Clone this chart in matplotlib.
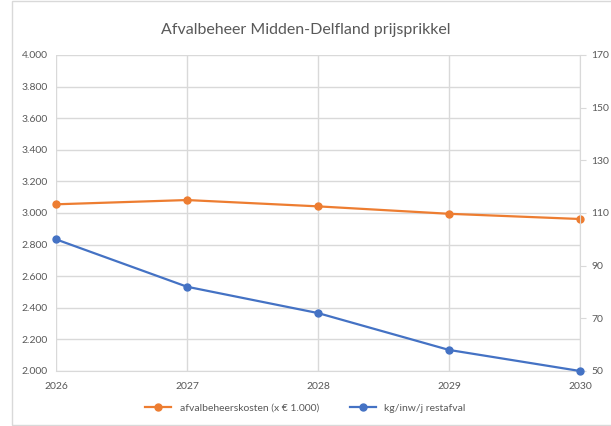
import matplotlib.pyplot as plt
import numpy as np

plt.rcParams['font.family'] = ['Lato', 'DejaVu Sans']

years = [2026, 2027, 2028, 2029, 2030]
kosten = [3055, 3082, 3042, 2995, 2962]
restafval = [100, 82, 72, 58, 50]

orange = '#ED7D31'
blue = '#4472C4'
grey = '#595959'
gridc = '#D9D9D9'

fig = plt.figure(figsize=(6.11, 4.26), dpi=100)
ax = fig.add_axes([56 / 611, 1 - 371 / 426, (580 - 56) / 611, (371 - 55) / 426])
ax2 = ax.twinx()

ax.plot(years, kosten, color=orange, lw=1.6, marker='o', ms=5, clip_on=False, zorder=5,
        label='afvalbeheerskosten (x € 1.000)')
ax2.plot(years, restafval, color=blue, lw=1.6, marker='o', ms=5, clip_on=False, zorder=5,
         label='kg/inw/j restafval')

ax.set_xlim(2026, 2030)
ax.set_ylim(2000, 4000)
ax.set_yticks(np.arange(2000, 4001, 200))
ax.set_yticklabels([f"{v // 1000}.{v % 1000:03d}" for v in range(2000, 4001, 200)])
ax.set_xticks(years)
ax2.set_ylim(50, 170)
ax2.set_yticks(np.arange(50, 171, 20))

ax.grid(True, color=gridc, lw=1)
ax.set_axisbelow(True)
for a in (ax, ax2):
    for s in a.spines.values():
        s.set_visible(False)
ax.spines['bottom'].set_visible(True)
ax.spines['bottom'].set_color(gridc)
ax2.spines['right'].set_visible(True)
ax2.spines['right'].set_color(gridc)
ax.tick_params(axis='both', length=0, labelsize=7.5, labelcolor=grey, pad=6)
ax.tick_params(axis='x', pad=8)
ax2.tick_params(axis='y', length=4, color=gridc, labelsize=7.5, labelcolor=grey, pad=4)

fig.text(0.5, 1 - 30 / 426, 'Afvalbeheer Midden-Delfland prijsprikkel', ha='center', va='center',
         fontsize=11.5, color=grey)

h1, l1 = ax.get_legend_handles_labels()
h2, l2 = ax2.get_legend_handles_labels()
fig.legend(h1 + h2, l1 + l2, loc='center', bbox_to_anchor=(0.5, 1 - 408 / 426), ncol=2,
           frameon=False, fontsize=7.5, labelcolor=grey, handlelength=2.5, columnspacing=3)

fig.patches.append(plt.Rectangle((12 / 611, 0.002), 1, 0.996, transform=fig.transFigure,
                                 fill=False, edgecolor=gridc, lw=1))

fig.savefig('out.png', dpi=100)
